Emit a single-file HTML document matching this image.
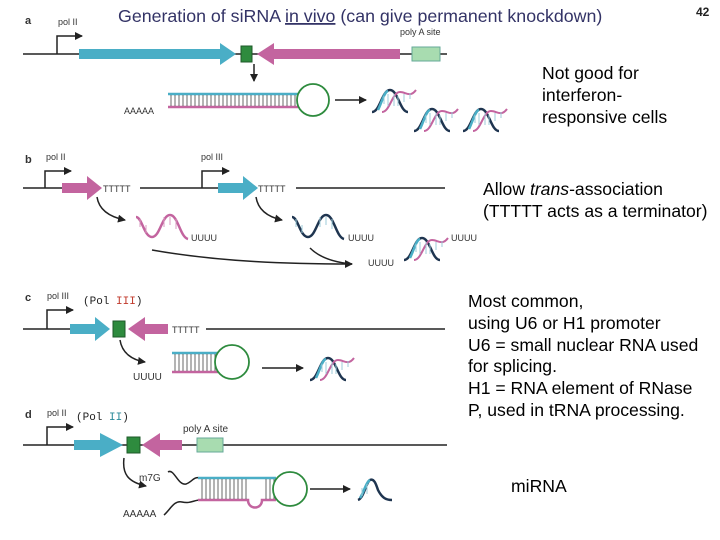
<!DOCTYPE html>
<html><head><meta charset="utf-8"><style>
html,body{margin:0;padding:0;background:#fff;}
svg{display:block;}
.t{font-family:"Liberation Sans",Arial,sans-serif;}
.m{font-family:"Liberation Mono","DejaVu Sans Mono",monospace;}
</style></head><body>
<svg width="720" height="540" viewBox="0 0 720 540" xmlns="http://www.w3.org/2000/svg">
<defs>
<marker id="ah" markerWidth="8" markerHeight="8" refX="7" refY="4" orient="auto" markerUnits="userSpaceOnUse"><path d="M0,0 L8,4 L0,8 z" fill="#222"/></marker>
<g id="hx">
<path d="M0,24 C8,24 10,2 18,2 C26,2 28,24 36,24" fill="none" stroke="#1f3550" stroke-width="2.5"/>
<path d="M6,22 C10,14 12,4 16,3" fill="none" stroke="#4aaec6" stroke-width="2.5"/>
<path d="M10,24 C18,24 20,4 28,4 C34,4 38,10 44,2" fill="none" stroke="#c3649f" stroke-width="2"/>
<path d="M12,8 v8 M16,6 v12 M22,6 v12 M26,8 v10 M32,6 v8 M38,5 v6" stroke="#9ccbd8" stroke-width="1"/>
</g>
<g id="wv">
<path d="M0,2 C6,2 8,22 16,22 C24,22 26,0 34,0 C42,0 44,22 52,24" fill="none" stroke="#1f3550" stroke-width="2.5"/>
<path d="M4,4 v8 M10,10 v8 M28,2 v10 M34,2 v8 M40,4 v10" stroke="#9ccbd8" stroke-width="1"/>
</g>
</defs>

<!-- titles -->
<text x="118" y="22" class="t" font-size="17.8" fill="#333366">Generation of siRNA <tspan text-decoration="underline">in vivo</tspan> (can give permanent knockdown)</text>
<text x="696" y="16" class="t" font-size="12" font-weight="bold" fill="#222">42</text>

<!-- right texts -->
<g class="t" font-size="17.6" fill="#000">
<text x="542" y="79">Not good for</text>
<text x="542" y="101">interferon-</text>
<text x="542" y="123">responsive cells</text>
<text x="483" y="195">Allow <tspan font-style="italic">trans</tspan>-association</text>
<text x="483" y="217">(TTTTT acts as a terminator)</text>
<text x="468" y="307">Most common,</text>
<text x="468" y="329">using U6 or H1 promoter</text>
<text x="468" y="351">U6 = small nuclear RNA used</text>
<text x="468" y="372">for splicing.</text>
<text x="468" y="394">H1 = RNA element of RNase</text>
<text x="468" y="416">P, used in tRNA processing.</text>
<text x="511" y="492">miRNA</text>
</g>

<!-- panel a -->
<g class="t" fill="#333">
<text x="25" y="24" font-size="11" font-weight="bold">a</text>
<text x="58" y="25" font-size="9">pol II</text>
<text x="400" y="35" font-size="9">poly A site</text>
<text x="124" y="114" font-size="9">AAAAA</text>
</g>
<line x1="23" y1="54" x2="447" y2="54" stroke="#222" stroke-width="1.5"/>
<path d="M57,54 V36 H82" fill="none" stroke="#222" stroke-width="1.5" marker-end="url(#ah)"/>
<path d="M79,49 H220 V43 L236,54 L220,65 V59 H79 z" fill="#4aaec6"/>
<rect x="241" y="46" width="11" height="16" fill="#2e8b3e" stroke="#1e5a28"/>
<path d="M257,54 L274,43 V49 H400 V59 H274 V65 z" fill="#c3649f"/>
<rect x="412" y="47" width="28" height="14" fill="#a8dcb0" stroke="#6a9"/>
<line x1="254" y1="64" x2="254" y2="81" stroke="#222" stroke-width="1.5" marker-end="url(#ah)"/>
<line x1="168" y1="94" x2="298" y2="94" stroke="#4aaec6" stroke-width="2.5"/>
<line x1="168" y1="107" x2="298" y2="107" stroke="#c3649f" stroke-width="2.5"/>
<path d="M171,95v11M175,95v11M179,95v11M183,95v11M187,95v11M191,95v11M195,95v11M199,95v11M203,95v11M207,95v11M211,95v11M215,95v11M219,95v11M223,95v11M227,95v11M231,95v11M235,95v11M239,95v11M243,95v11M247,95v11M251,95v11M255,95v11M259,95v11M263,95v11M267,95v11M271,95v11M275,95v11M279,95v11M283,95v11M287,95v11M291,95v11M295,95v11" stroke="#444" stroke-width="0.8"/>
<circle cx="313" cy="100" r="16" fill="#fff" stroke="#2e8b3e" stroke-width="1.8"/>
<line x1="335" y1="100" x2="366" y2="100" stroke="#222" stroke-width="1.5" marker-end="url(#ah)"/>
<use href="#hx" transform="translate(372,88)"/>
<use href="#hx" transform="translate(414,107)"/>
<use href="#hx" transform="translate(463,107)"/>

<!-- panel b -->
<g class="t" fill="#333">
<text x="25" y="163" font-size="11" font-weight="bold">b</text>
<text x="46" y="160" font-size="9">pol II</text>
<text x="201" y="160" font-size="9">pol III</text>
<text x="103" y="192" font-size="9">TTTTT</text>
<text x="258" y="192" font-size="9">TTTTT</text>
<text x="191" y="241" font-size="9">UUUU</text>
<text x="348" y="241" font-size="9">UUUU</text>
<text x="368" y="266" font-size="9">UUUU</text>
<text x="451" y="241" font-size="9">UUUU</text>
</g>
<line x1="23" y1="188" x2="99" y2="188" stroke="#222" stroke-width="1.5"/>
<line x1="140" y1="188" x2="254" y2="188" stroke="#222" stroke-width="1.5"/>
<line x1="296" y1="188" x2="445" y2="188" stroke="#222" stroke-width="1.5"/>
<path d="M45,188 V171 H71" fill="none" stroke="#222" stroke-width="1.5" marker-end="url(#ah)"/>
<path d="M202,188 V171 H229" fill="none" stroke="#222" stroke-width="1.5" marker-end="url(#ah)"/>
<path d="M62,183 H87 V176 L102,188 L87,200 V193 H62 z" fill="#c3649f"/>
<path d="M218,183 H243 V176 L258,188 L243,200 V193 H218 z" fill="#4aaec6"/>
<path d="M97,197 C99,210 110,217 125,220" fill="none" stroke="#222" stroke-width="1.5" marker-end="url(#ah)"/>
<path d="M256,197 C258,210 268,217 282,220" fill="none" stroke="#222" stroke-width="1.5" marker-end="url(#ah)"/>
<g transform="translate(136,215)"><path d="M0,2 C6,2 8,22 16,22 C24,22 26,0 34,0 C42,0 44,22 52,24" fill="none" stroke="#c3649f" stroke-width="2.5"/><path d="M4,4 v8 M10,10 v8 M28,2 v10 M34,2 v8 M40,4 v10" stroke="#d99bc0" stroke-width="1"/></g>
<use href="#wv" transform="translate(292,215)"/>
<path d="M152,250 C220,262 290,264 352,264" fill="none" stroke="#222" stroke-width="1.5" marker-end="url(#ah)"/>
<path d="M310,248 C318,256 330,262 352,264" fill="none" stroke="#222" stroke-width="1.5"/>
<use href="#hx" transform="translate(404,236)"/>

<!-- panel c -->
<g class="t" fill="#333">
<text x="25" y="301" font-size="11" font-weight="bold">c</text>
<text x="47" y="299" font-size="9">pol III</text>
<text x="172" y="333" font-size="9">TTTTT</text>
<text x="133" y="380" font-size="10">UUUU</text>
</g>
<text x="83" y="304" class="m" font-size="11" fill="#222">(Pol <tspan fill="#c0392b">III</tspan>)</text>
<line x1="23" y1="329" x2="70" y2="329" stroke="#222" stroke-width="1.5"/>
<line x1="206" y1="329" x2="445" y2="329" stroke="#222" stroke-width="1.5"/>
<path d="M47,329 V310 H73" fill="none" stroke="#222" stroke-width="1.5" marker-end="url(#ah)"/>
<path d="M70,324 H95 V317 L110,329 L95,341 V334 H70 z" fill="#4aaec6"/>
<rect x="113" y="321" width="12" height="16" fill="#2e8b3e" stroke="#1e5a28"/>
<path d="M128,329 L145,317 V324 H168 V334 H145 V341 z" fill="#c3649f"/>
<path d="M120,340 C122,353 132,360 145,362" fill="none" stroke="#222" stroke-width="1.5" marker-end="url(#ah)"/>
<line x1="172" y1="353" x2="218" y2="353" stroke="#4aaec6" stroke-width="2.5"/>
<line x1="172" y1="372" x2="218" y2="372" stroke="#c3649f" stroke-width="2.5"/>
<path d="M175,354v17M179,354v17M183,354v17M187,354v17M191,354v17M195,354v17M199,354v17M203,354v17M207,354v17M211,354v17M215,354v17" stroke="#444" stroke-width="0.8"/>
<circle cx="232" cy="362" r="17" fill="#fff" stroke="#2e8b3e" stroke-width="1.8"/>
<line x1="262" y1="368" x2="303" y2="368" stroke="#222" stroke-width="1.5" marker-end="url(#ah)"/>
<use href="#hx" transform="translate(310,356)"/>

<!-- panel d -->
<g class="t" fill="#333">
<text x="25" y="418" font-size="11" font-weight="bold">d</text>
<text x="47" y="416" font-size="9">pol II</text>
<text x="183" y="432" font-size="10">poly A site</text>
<text x="139" y="481" font-size="10">m7G</text>
<text x="123" y="517" font-size="10">AAAAA</text>
</g>
<text x="76" y="420" class="m" font-size="11" fill="#222">(Pol <tspan fill="#2a8a9a">II</tspan>)</text>
<line x1="23" y1="445" x2="447" y2="445" stroke="#222" stroke-width="1.5"/>
<path d="M47,445 V427 H73" fill="none" stroke="#222" stroke-width="1.5" marker-end="url(#ah)"/>
<path d="M74,440 H100 V433 L123,445 L100,457 V450 H74 z" fill="#4aaec6"/>
<rect x="127" y="437" width="13" height="16" fill="#2e8b3e" stroke="#1e5a28"/>
<path d="M142,445 L160,433 V440 H182 V450 H160 V457 z" fill="#c3649f"/>
<rect x="197" y="438" width="26" height="14" fill="#a8dcb0" stroke="#6a9"/>
<path d="M124,458 C122,474 128,482 146,486" fill="none" stroke="#222" stroke-width="1.5" marker-end="url(#ah)"/>
<path d="M168,472 C174,468 178,486 186,484 C192,482 194,476 200,478" fill="none" stroke="#222" stroke-width="1.5"/>
<path d="M164,515 C170,510 174,500 182,502 C190,504 194,500 200,500" fill="none" stroke="#222" stroke-width="1.5"/>
<line x1="198" y1="478" x2="276" y2="478" stroke="#4aaec6" stroke-width="2.5"/>
<path d="M198,500 H248 C248,510 262,510 262,500 H276" fill="none" stroke="#c3649f" stroke-width="2.5"/>
<path d="M202,479v20M206,479v20M210,479v20M214,479v20M218,479v20M222,479v20M226,479v20M230,479v20M234,479v20M238,479v20M242,479v20M246,479v20M266,479v20M270,479v20M274,479v20" stroke="#444" stroke-width="0.8"/>
<circle cx="290" cy="489" r="17" fill="#fff" stroke="#2e8b3e" stroke-width="1.8"/>
<line x1="310" y1="489" x2="350" y2="489" stroke="#222" stroke-width="1.5" marker-end="url(#ah)"/>
<g transform="translate(358,476)">
<path d="M0,24 C6,22 8,6 12,4 C16,2 18,8 20,14 C24,22 28,24 34,24" fill="none" stroke="#1f3550" stroke-width="2.5"/>
<path d="M2,22 C6,16 8,6 12,4" fill="none" stroke="#4aaec6" stroke-width="2.5"/>
<path d="M4,12 v8 M9,8 v10" stroke="#9ccbd8" stroke-width="1"/>
</g>
</svg>
</body></html>
